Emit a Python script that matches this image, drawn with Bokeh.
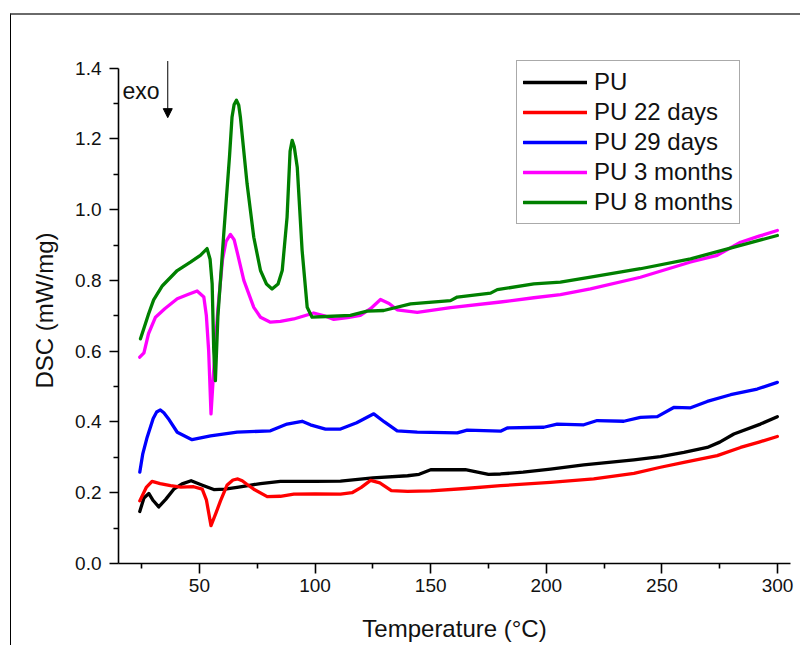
from bokeh.plotting import figure
from bokeh.models import (Range1d, FixedTicker, PrintfTickFormatter, Legend, LegendItem,
                          Label, Arrow, NormalHead)
from bokeh.embed import file_html
from bokeh.resources import INLINE

FONT = "Liberation Sans"

# ---- data ----
pu_T = [24.2, 26.0, 28.1, 30.0, 32.4, 35.5, 38.9, 42.5, 46.4, 51.0, 56.2, 61.0, 66.3, 71.0, 76.4,
        85.0, 100.0, 111.0, 125.0, 140.0, 145.0, 150.0, 165.0, 175.0, 180.2, 190.0, 201.8, 216.2,
        237.9, 249.4, 259.5, 269.6, 275.0, 281.1, 292.6, 299.9]
pu_v = [0.147, 0.185, 0.198, 0.178, 0.160, 0.182, 0.210, 0.225, 0.234, 0.222, 0.209, 0.210, 0.215,
        0.220, 0.226, 0.232, 0.232, 0.233, 0.242, 0.248, 0.252, 0.265, 0.265, 0.252, 0.253, 0.258,
        0.267, 0.279, 0.293, 0.302, 0.314, 0.328, 0.343, 0.366, 0.394, 0.415]

d22_T = [24.2, 27.0, 29.5, 33.0, 37.5, 42.0, 47.5, 51.2, 53.0, 55.0, 57.0, 59.1, 62.0, 64.5, 66.6,
         68.5, 70.5, 73.5, 79.3, 85.0, 90.8, 100.0, 111.0, 116.0, 120.0, 124.0, 128.0, 133.0,
         140.0, 150.0, 165.0, 180.2, 201.8, 220.5, 237.9, 249.4, 259.5, 273.9, 284.0, 292.0, 299.9]
d22_v = [0.177, 0.215, 0.232, 0.226, 0.220, 0.216, 0.217, 0.210, 0.180, 0.107, 0.140, 0.177, 0.222,
         0.236, 0.239, 0.234, 0.224, 0.210, 0.189, 0.190, 0.196, 0.197, 0.196, 0.200, 0.215, 0.235,
         0.228, 0.206, 0.204, 0.205, 0.212, 0.220, 0.229, 0.239, 0.255, 0.272, 0.286, 0.305, 0.328,
         0.343, 0.359]

d29_T = [24.2, 25.5, 27.4, 30.0, 31.5, 33.1, 34.6, 36.5, 40.4, 46.8, 54.8, 66.3, 80.7, 87.9, 94.4,
         98.0, 104.5, 111.0, 118.0, 125.4, 130.0, 135.5, 144.2, 161.5, 165.8, 180.2, 183.1, 198.9,
         204.7, 216.2, 222.0, 233.5, 240.7, 248.0, 255.1, 262.4, 269.6, 279.7, 291.2, 299.9]
d29_v = [0.258, 0.310, 0.357, 0.410, 0.428, 0.434, 0.426, 0.410, 0.371, 0.350, 0.361, 0.371, 0.375,
         0.394, 0.402, 0.392, 0.380, 0.380, 0.398, 0.423, 0.400, 0.375, 0.371, 0.369, 0.377, 0.374,
         0.383, 0.385, 0.394, 0.392, 0.404, 0.402, 0.413, 0.415, 0.441, 0.440, 0.458, 0.477, 0.493,
         0.512]

m3_T = [24.2, 26.0, 28.0, 31.0, 35.0, 40.4, 45.0, 49.0, 51.9, 53.0, 54.0, 55.0, 56.5, 58.0, 60.0,
        61.5, 63.4, 65.0, 66.5, 69.2, 73.5, 76.4, 80.7, 85.0, 90.8, 99.4, 104.0, 108.1, 114.0,
        119.6, 124.0, 128.3, 132.0, 135.5, 144.2, 158.6, 180.2, 194.6, 206.1, 219.1, 240.7, 262.4,
        273.9, 284.0, 292.0, 299.9]
m3_v = [0.583, 0.595, 0.650, 0.696, 0.720, 0.748, 0.760, 0.770, 0.753, 0.700, 0.600, 0.423, 0.580,
        0.720, 0.860, 0.910, 0.930, 0.915, 0.875, 0.800, 0.724, 0.696, 0.682, 0.684, 0.691, 0.708,
        0.700, 0.690, 0.695, 0.701, 0.720, 0.746, 0.735, 0.717, 0.710, 0.723, 0.739, 0.751, 0.760,
        0.776, 0.809, 0.852, 0.871, 0.908, 0.925, 0.941]

m8_T = [24.5, 26.0, 28.0, 30.2, 34.0, 40.4, 46.1, 50.4, 53.3, 54.6, 55.5, 56.2, 56.9, 58.0, 60.5,
        63.0, 64.1, 65.0, 66.0, 67.0, 67.7, 70.6, 73.5, 76.4, 79.0, 81.4, 84.0, 85.8, 87.9, 89.2,
        90.1, 91.0, 92.3, 94.4, 96.6, 98.7, 105.0, 115.3, 122.5, 129.7, 141.3, 158.6, 161.5, 175.9,
        178.8, 194.6, 206.1, 219.1, 240.7, 262.4, 284.0, 299.9]
m8_v = [0.635, 0.665, 0.705, 0.745, 0.785, 0.828, 0.852, 0.871, 0.890, 0.860, 0.790, 0.600, 0.517,
        0.700, 0.930, 1.150, 1.262, 1.297, 1.309, 1.295, 1.262, 1.073, 0.922, 0.828, 0.790, 0.776,
        0.790, 0.828, 0.979, 1.165, 1.196, 1.178, 1.120, 0.885, 0.724, 0.696, 0.698, 0.701, 0.713,
        0.715, 0.734, 0.743, 0.753, 0.764, 0.774, 0.790, 0.795, 0.809, 0.833, 0.861, 0.899, 0.927]

series_names = ["PU", "PU 22 days", "PU 29 days", "PU 3 months", "PU 8 months"]
series_T = [pu_T, d22_T, d29_T, m3_T, m8_T]
series_v = [pu_v, d22_v, d29_v, m3_v, m8_v]
series_colors = ["#000000", "#FF0000", "#0000FF", "#FF00FF", "#008000"]

x_major = [50, 100, 150, 200, 250, 300]
x_minor = [25, 75, 125, 175, 225, 275]
y_major = [0.0, 0.2, 0.4, 0.6, 0.8, 1.0, 1.2, 1.4]
y_minor = [0.1, 0.3, 0.5, 0.7, 0.9, 1.1, 1.3]

p = figure(width=790, height=632, output_backend="svg", toolbar_location=None,
           x_range=Range1d(15, 305.6), y_range=Range1d(0, 1.43),
           min_border_left=107, min_border_right=11, min_border_top=42, min_border_bottom=84)
p.styles = {"margin-top": "13px", "margin-left": "10px",
            "border-top": "2px solid #6a6a6a", "border-left": "1px solid #000000"}
p.outline_line_color = None
p.grid.visible = False
p.background_fill_color = "white"
p.border_fill_color = "white"

renderers = []
for T, v, c in zip(series_T, series_v, series_colors):
    r = p.line(T, v, line_color=c, line_width=3.3, line_join="round", line_cap="round")
    renderers.append(r)

for ax in (p.xaxis[0], p.yaxis[0]):
    ax.axis_line_width = 1.6
    ax.major_tick_line_width = 1.6
    ax.minor_tick_line_width = 1.6
    ax.major_tick_in = 0
    ax.minor_tick_in = 0
    ax.major_label_text_font = FONT
    ax.major_label_text_font_size = "19px"
    ax.major_label_text_color = "#111111"
    ax.axis_label_text_font = FONT
    ax.axis_label_text_font_size = "24px"
    ax.axis_label_text_font_style = "normal"
    ax.axis_label_text_color = "#111111"

p.xaxis[0].ticker = FixedTicker(ticks=x_major, minor_ticks=x_minor)
p.xaxis[0].major_tick_out = 10
p.xaxis[0].minor_tick_out = 5
p.xaxis[0].major_label_standoff = 5
p.xaxis[0].axis_label = "Temperature (°C)"
p.xaxis[0].axis_label_standoff = 20

p.yaxis[0].ticker = FixedTicker(ticks=y_major, minor_ticks=y_minor)
p.yaxis[0].formatter = PrintfTickFormatter(format="%.1f")
p.yaxis[0].bounds = (0, 1.4)
p.yaxis[0].major_tick_out = 9
p.yaxis[0].minor_tick_out = 5
p.yaxis[0].major_label_standoff = 8
p.yaxis[0].axis_label = "DSC (mW/mg)"
p.yaxis[0].axis_label_standoff = 14

legend = Legend(items=[LegendItem(label=n, renderers=[r]) for n, r in zip(series_names, renderers)],
                location=(398, 339), orientation="vertical",
                label_text_font=FONT, label_text_font_size="24px", label_text_color="#111111",
                glyph_width=64, glyph_height=30, label_height=30, label_standoff=7,
                spacing=0, padding=6, margin=0,
                border_line_color="#555555", border_line_width=1,
                background_fill_color="white", background_fill_alpha=1.0)
p.add_layout(legend, "center")

p.add_layout(Label(x=16.7, y=1.336, text="exo", text_font=FONT, text_font_size="23px",
                   text_color="#111111", text_baseline="alphabetic", text_align="left"))
p.add_layout(Arrow(x_start=36.3, y_start=1.42, x_end=36.3, y_end=1.26, line_width=1,
                   line_color="black",
                   end=NormalHead(size=9, fill_color="black", line_color="black")))

open("out.html", "w").write(file_html(p, INLINE))
